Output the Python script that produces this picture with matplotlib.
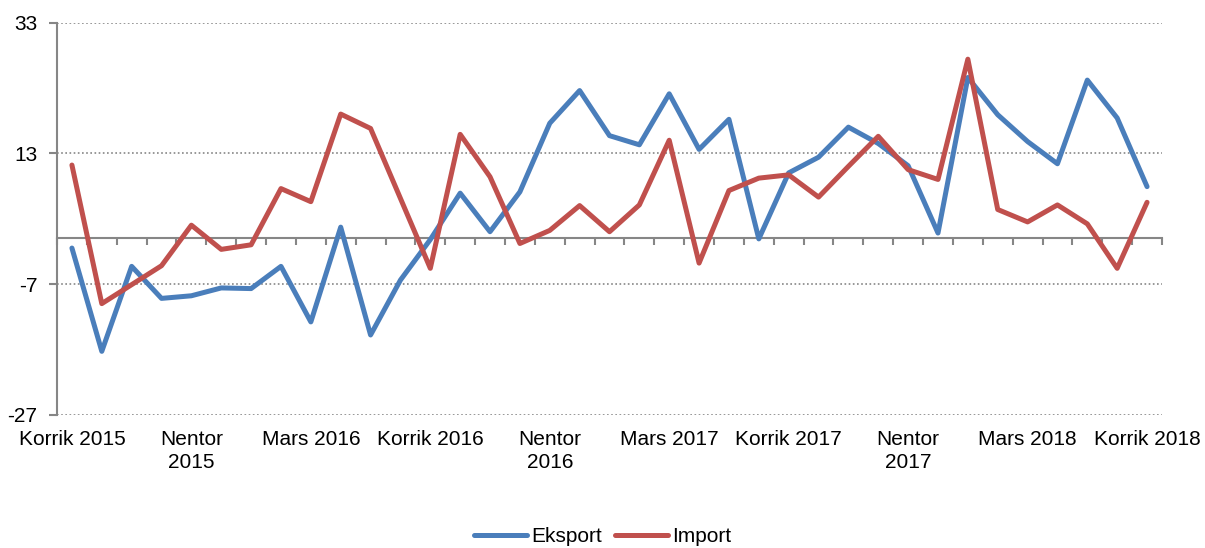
import numpy as np
import matplotlib as mpl
mpl.use("Agg")
import matplotlib.pyplot as plt

mpl.rcParams.update({
    "font.family": ["Liberation Sans", "DejaVu Sans"],
    "font.size": 15,
    "axes.unicode_minus": False,
})

# monthly growth, Korrik 2015 .. Korrik 2018 (37 months)
eksport = [-1.5, -17.3, -4.3, -9.2, -8.8, -7.6, -7.7, -4.3, -12.8, 1.7,
           -14.8, -6.4, -0.2, 6.9, 1.0, 7.1, 17.6, 22.6, 15.7, 14.3,
           22.1, 13.6, 18.2, -0.1, 10.0, 12.4, 17.0, 14.5, 11.1, 0.8,
           24.6, 18.9, 14.8, 11.4, 24.2, 18.4, 7.9]
importi = [11.2, -10.0, -7.1, -4.2, 2.0, -1.7, -1.0, 7.6, 5.6, 19.0,
           16.8, 6.1, -4.6, 15.9, 9.4, -0.8, 1.2, 5.0, 1.0, 5.1,
           15.0, -3.8, 7.3, 9.2, 9.7, 6.3, 11.0, 15.6, 10.5, 9.0,
           27.4, 4.4, 2.5, 5.1, 2.2, -4.6, 5.5]
tick_labels = ["Korrik 2015", "Nentor\n2015", "Mars 2016", "Korrik 2016",
               "Nentor\n2016", "Mars 2017", "Korrik 2017", "Nentor\n2017",
               "Mars 2018", "Korrik 2018"]
label_step = 4
y_ticks = [-27, -7, 13, 33]

BLUE = "#4a7ebb"
RED = "#c0504d"
GREY = "#868686"

fig = plt.figure(figsize=(12.05, 5.48), dpi=100)
ax = fig.add_axes([0.0473, 0.2432, 0.9170, 0.7156])

x = np.arange(len(eksport))
ax.plot(x, eksport, color=BLUE, lw=3.6, solid_joinstyle="round",
        solid_capstyle="round", label="Eksport", zorder=3)
ax.plot(x, importi, color=RED, lw=3.6, solid_joinstyle="round",
        solid_capstyle="round", label="Import", zorder=4)

ax.set_xlim(-0.5, len(x) - 0.5)
ax.set_ylim(y_ticks[0], y_ticks[-1])
ax.set_yticks(y_ticks)
for v in y_ticks:
    ax.axhline(v, color=GREY, lw=1.2, ls=(0, (1, 1.5)), zorder=1)

# category axis crossing at zero, boundary ticks, no labels
ax.spines["bottom"].set_position(("data", 0))
ax.spines["bottom"].set_color(GREY)
ax.spines["bottom"].set_linewidth(1.5)
ax.spines["left"].set_color(GREY)
ax.spines["left"].set_linewidth(1.5)
ax.spines["top"].set_visible(False)
ax.spines["right"].set_visible(False)
ax.set_xticks(np.arange(len(x) + 1) - 0.5)
ax.tick_params(axis="x", length=5, width=1.5, color=GREY, labelbottom=False)
ax.tick_params(axis="y", length=6, width=1.5, color=GREY, pad=8)

# labels sit low, at the bottom of the plot area
sec = ax.secondary_xaxis("bottom")
sec.set_xticks(x[::label_step])
sec.set_xticklabels(tick_labels, linespacing=1.25)
sec.tick_params(length=0, pad=11)
sec.spines["bottom"].set_visible(False)

fig.legend(loc="center", bbox_to_anchor=(0.5, 1 - 537 / 548), ncol=2,
           frameon=False, handlelength=2.55, handletextpad=0.2,
           columnspacing=0.62, fontsize=15, borderpad=0.1)

fig.savefig("out.png", dpi=100)
